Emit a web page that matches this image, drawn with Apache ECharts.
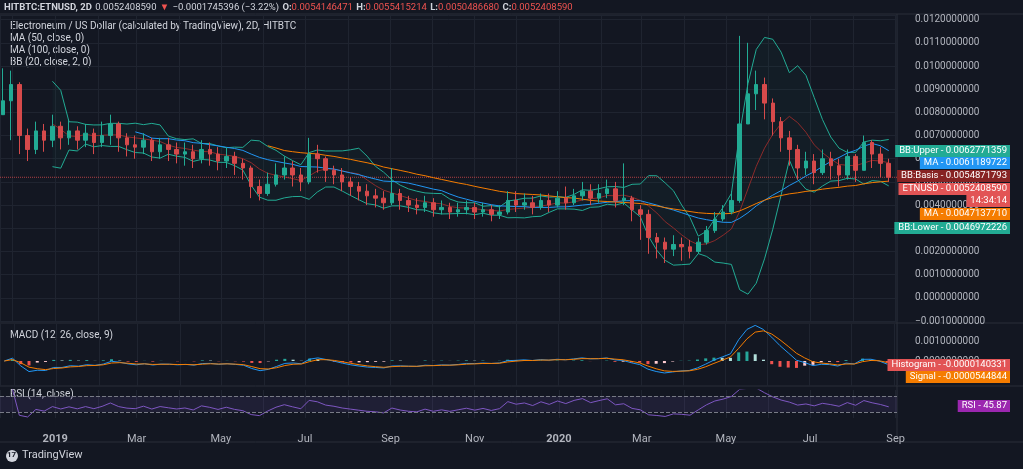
<!DOCTYPE html>
<html><head><meta charset="utf-8">
<script src="https://cdn.jsdelivr.net/npm/echarts@6/dist/echarts.min.js"></script>
<style>html,body{margin:0;background:#131722}#main{width:1023px;height:469px}</style>
</head><body><div id="main"></div>
<script>
// price values in thousandths of a USD, one bar per 6 days from 2018-11-24
var startDate = '2018-11-24';
var stepDays = 6;
var firstOpen = 7.9;
var closes = [8.5,9.2,7.0, 6.4,7.2,6.8,7.4,6.9, 7.2,6.8,7.1,6.7,7.0,7.5,6.9,6.6, 6.5,6.8,6.3,6.6,6.4,6.2,
  6.3,6.0,6.4,6.2,5.9,6.1,5.8,5.6, 4.8,4.5,4.9,5.3, 5.6,5.3,5.0, 6.2,6.0,5.5, 5.3,5.0,4.8,4.6,4.4,4.3,4.1,4.5,
  4.2,4.0,3.9,4.1,3.8, 3.9,3.7,3.8,3.9,3.7,3.8,3.6,3.7,4.2, 4.0,4.1,3.9,4.2,4.0,4.3, 4.1,4.4,4.6,4.3,4.5,4.7,4.2,4.3,
  3.8,3.6, 2.6,2.4,2.1,2.3,2.2,2.0,2.4, 2.9,3.4,3.7,4.2, 7.5, 8.8,9.2,8.4,7.6, 6.9,6.4,5.6,5.9,5.4,6.0,
  5.7,5.3,6.1,5.5,6.7,6.2,5.8,5.2];
var highs = [9.9,9.8,9.3, 7.3,7.6,7.5,7.9,7.6, 7.7,7.4,7.5,7.3,7.6,7.9,7.6,7.1, 7.0,7.1,6.9,6.9,6.9,6.7,
  6.7,6.6,6.8,6.7,6.5,6.5,6.3,6.0, 5.7,5.1,5.4,5.8, 6.1,5.9,5.6, 6.9,6.6,6.1, 5.7,5.6,5.2,5.0,4.9,4.7,4.6,5.6,
  4.7,4.4,4.3,4.4,4.3, 4.2,4.1,4.1,4.2,4.1,4.1,4.0,4.0,4.6, 4.6,4.5,4.4,4.5,4.5,4.6, 4.8,4.7,5.0,4.9,4.9,5.1,5.0,5.8,
  4.4,4.0, 3.8,2.8,2.6,2.7,2.6,2.5,2.6, 3.1,3.7,4.0,4.6, 11.3, 11.0,9.8,9.5,8.6, 7.8,7.2,6.6,6.3,6.2,6.4,
  6.3,6.0,6.4,6.2,7.0,6.8,6.5,6.0];
var lows = [8.0,6.8,6.2, 5.9,6.2,6.3,6.5,6.4, 6.6,6.4,6.5,6.2,6.5,6.6,6.3,6.1, 6.0,6.2,5.9,6.0,5.9,5.8,
  5.7,5.6,5.8,5.7,5.5,5.6,5.3,5.1, 4.3,4.2,4.4,4.8, 5.1,4.8,4.6, 4.9,5.4,5.0, 4.9,4.6,4.4,4.2,4.0,3.9,3.8,4.0,
  3.8,3.7,3.6,3.7,3.5, 3.6,3.4,3.5,3.6,3.4,3.5,3.3,3.4,3.6, 3.7,3.8,3.6,3.8,3.7,3.9, 3.8,4.0,4.2,4.0,4.1,4.3,3.9,4.0,
  3.3,2.5, 1.9,1.7,1.5,1.8,1.6,1.7,1.9, 2.3,2.8,3.3,3.6, 4.1, 7.6,8.1,7.7,7.0, 6.3,5.7,5.1,5.3,4.9,5.3,
  5.1,4.8,5.1,5.0,5.5,5.6,5.2,5.0];

var priceTags = [
  ['BB:Upper', '0.0062771359', '#22ab94'],
  ['MA', '0.0061189722', '#2196f3'],
  ['BB:Basis', '0.0054871793', '#872323'],
  ['ETNUSD', '0.0052408590', '#e25455'],
  ['', '14:34:14', '#e25455'],
  ['MA', '0.0047137710', '#f57c00'],
  ['BB:Lower', '0.0046972226', '#22ab94']
];
var macdTags = [['Histogram', '-0.0000140331', '#e25455'], ['Signal', '-0.0000544844', '#f57c00']];
var rsiTag = ['RSI', '45.87', '#9c27b0'];

var DAY = 86400000;
var t0 = new Date(startDate + 'T00:00:00Z').getTime();
var times = closes.map(function (c, i) { return t0 + i * stepDays * DAY; });
var px = closes.map(function (c) { return c / 1000; });
var candles = closes.map(function (c, i) {
  var o = i ? closes[i - 1] : firstOpen;
  return [times[i], o / 1000, c / 1000, lows[i] / 1000, highs[i] / 1000];
});

function sma(n) {
  return px.map(function (v, i) {
    if (i < n - 1) return [times[i], null];
    var s = 0; for (var k = i - n + 1; k <= i; k++) s += px[k];
    return [times[i], s / n];
  });
}
function bb(n, mult) {
  var up = [], lo = [], mid = [];
  px.forEach(function (v, i) {
    if (i < n - 1) { up.push([times[i], null]); lo.push([times[i], null]); mid.push([times[i], null]); return; }
    var s = 0; for (var k = i - n + 1; k <= i; k++) s += px[k];
    var m = s / n, q = 0; for (k = i - n + 1; k <= i; k++) q += (px[k] - m) * (px[k] - m);
    var sd = Math.sqrt(q / n);
    up.push([times[i], m + mult * sd]); lo.push([times[i], m - mult * sd]); mid.push([times[i], m]);
  });
  return { up: up, lo: lo, mid: mid };
}
function ema(arr, n) {
  var k = 2 / (n + 1), out = [], e = arr[0];
  arr.forEach(function (v) { e = v * k + e * (1 - k); out.push(e); });
  return out;
}
var ma50 = sma(17), ma100 = sma(33), band = bb(7, 2);
var e1 = ema(px, 4), e2 = ema(px, 9);
var macd = px.map(function (v, i) { return e1[i] - e2[i]; });
var sig = ema(macd, 3);
var hist = macd.map(function (v, i) { return v - sig[i]; });
var rsi = [];
(function () {
  var n = 8, ag = 0, al = 0;
  px.forEach(function (v, i) {
    if (i === 0) { rsi.push([times[i], null]); return; }
    var d = v - px[i - 1], g = Math.max(d, 0), l = Math.max(-d, 0);
    ag = (ag * (n - 1) + g) / n; al = (al * (n - 1) + l) / n;
    rsi.push([times[i], al === 0 ? 100 : 100 - 100 / (1 + ag / al)]);
  });
})();

var xMin = new Date('2018-11-22T00:00:00Z').getTime();
var xMax = new Date('2020-09-02T00:00:00Z').getTime();
var lastClose = px[px.length - 1];
var font = 'Roboto, "Noto Sans", sans-serif';
var gridLine = { lineStyle: { color: '#1f2430' } };

function fmt(v) { return (v < 0 ? '\u2212' : '') + Math.abs(v).toFixed(10); }
function xAxis(idx, show) {
  return {
    type: 'time', gridIndex: idx, min: xMin, max: xMax, splitNumber: 11,
    axisLine: { show: false }, axisTick: { show: false },
    splitLine: { show: true, lineStyle: { color: '#1f2430' } },
    axisLabel: show ? {
      color: '#b2b5be', fontFamily: font, fontSize: 11, margin: 16,
      formatter: function (v) {
        var d = new Date(v);
        if (d.getUTCDate() !== 1) return '';
        var m = d.getUTCMonth();
        if (m === 0) return '{y|' + d.getUTCFullYear() + '}';
        return m % 2 === 0 ? ['Jan','Feb','Mar','Apr','May','Jun','Jul','Aug','Sep','Oct','Nov','Dec'][m] : '';
      },
      rich: { y: { fontWeight: 'bold', color: '#b2b5be', fontSize: 11 } }
    } : { show: false }
  };
}

var chart = echarts.init(document.getElementById('main'));
var graphic = [
  { type: 'rect', shape: { x: 0, y: 442, width: 1023, height: 27 }, style: { fill: '#131722' } },
  { type: 'line', shape: { x1: 0, y1: 442, x2: 1023, y2: 442 }, style: { stroke: '#2a2e39' } },
  { type: 'line', shape: { x1: 0, y1: 323, x2: 1023, y2: 323 }, style: { stroke: '#2a2e39' } },
  { type: 'line', shape: { x1: 0, y1: 386, x2: 1023, y2: 386 }, style: { stroke: '#2a2e39' } },
  { type: 'line', shape: { x1: 897, y1: 14, x2: 897, y2: 442 }, style: { stroke: '#2a2e39' } },
  { type: 'line', shape: { x1: 0, y1: 14, x2: 1023, y2: 14 }, style: { stroke: '#2a2e39' } },
  { type: 'text', x: 4, y: 2, style: { text: '{b|HITBTC:ETNUSD, 2D} {w|0.0052408590} {r|\u25BC} {w|\u22120.0001745396 (\u22123.22%)} {b|O:}{r|0.0054146471} {b|H:}{r|0.0055415214} {b|L:}{r|0.0050486680} {b|C:}{r|0.0052408590}',
      rich: { b: { fill: '#d1d4dc', fontWeight: 'bold', fontSize: 9.5, fontFamily: font }, w: { fill: '#d1d4dc', fontSize: 9.5, fontFamily: font }, r: { fill: '#ef5350', fontSize: 9.5, fontFamily: font } } } },
  { type: 'text', x: 10, y: 21, style: { text: 'Electroneum / US Dollar (calculated by TradingView), 2D, HITBTC', fill: '#d1d4dc', fontSize: 10, fontFamily: font } },
  { type: 'text', x: 10, y: 33, style: { text: 'MA (50, close, 0)', fill: '#d1d4dc', fontSize: 10, fontFamily: font } },
  { type: 'text', x: 10, y: 45, style: { text: 'MA (100, close, 0)', fill: '#d1d4dc', fontSize: 10, fontFamily: font } },
  { type: 'text', x: 10, y: 57, style: { text: 'BB (20, close, 2, 0)', fill: '#d1d4dc', fontSize: 10, fontFamily: font } },
  { type: 'text', x: 10, y: 330, style: { text: 'MACD (12, 26, close, 9)', fill: '#d1d4dc', fontSize: 10, fontFamily: font } },
  { type: 'text', x: 10, y: 389, style: { text: 'RSI (14, close)', fill: '#d1d4dc', fontSize: 10, fontFamily: font } },
  { type: 'text', x: 22, y: 450, style: { text: 'TradingView', fill: '#d1d4dc', fontSize: 11, fontFamily: font } },
  { type: 'circle', shape: { cx: 12, cy: 456, r: 6 }, style: { fill: '#d1d4dc' } },
  { type: 'text', x: 7, y: 451, style: { text: '17', fill: '#131722', fontSize: 8, fontWeight: 'bold', fontFamily: font } }
];
function tag(y, name, val, color) {
  graphic.push({ type: 'text', x: 1010, y: y, z: 10, style: {
    text: (name ? name + ' - ' : '') + val, fill: '#fff', fontSize: 9.5, fontFamily: font,
    align: 'right', verticalAlign: 'middle', backgroundColor: color, padding: [1, 3, 1, 4] } });
}
var tagY = [151, 163, 176, 189, 201, 214, 228];
priceTags.forEach(function (t, i) { tag(tagY[i], t[0], t[1], t[2]); });
tag(365, macdTags[0][0], macdTags[0][1], macdTags[0][2]);
tag(377, macdTags[1][0], macdTags[1][1], macdTags[1][2]);
tag(406, rsiTag[0], rsiTag[1], rsiTag[2]);

chart.setOption({
  backgroundColor: '#131722',
  animation: false,
  textStyle: { fontFamily: font },
  grid: [
    { left: 0, right: 126, top: 15, height: 306 },
    { left: 0, right: 126, top: 324, height: 62 },
    { left: 0, right: 126, top: 390, height: 28 }
  ],
  xAxis: [xAxis(0, false), xAxis(1, false), xAxis(2, true)],
  yAxis: [
    { type: 'value', gridIndex: 0, position: 'right', min: -0.001, max: 0.0122, interval: 0.001,
      axisLine: { show: false }, axisTick: { show: false }, splitLine: gridLine,
      axisLabel: { color: '#b2b5be', fontSize: 10, margin: 18, showMaxLabel: false, formatter: fmt } },
    { type: 'value', gridIndex: 1, position: 'right', min: -0.00125, max: 0.00185, interval: 0.00025,
      axisLine: { show: false }, axisTick: { show: false }, splitLine: { show: false },
      axisLabel: { color: '#b2b5be', fontSize: 10, margin: 18, formatter: function (v) {
        return (Math.abs(v) < 1e-9 || Math.abs(v - 0.001) < 1e-9) ? fmt(v) : ''; } } },
    { type: 'value', gridIndex: 2, position: 'right', min: 15, max: 85,
      axisLine: { show: false }, axisTick: { show: false }, splitLine: { show: false }, axisLabel: { show: false } }
  ],
  series: [
    { type: 'line', data: band.lo, symbol: 'none', stack: 'bb', lineStyle: { color: '#22ab94', width: 1 }, z: 1 },
    { type: 'line', data: band.up.map(function (d, i) { return [d[0], d[1] === null ? null : d[1] - band.lo[i][1]]; }), symbol: 'none', stack: 'bb',
      lineStyle: { width: 0 }, areaStyle: { color: 'rgba(34,171,148,0.06)' }, z: 1 },
    { type: 'line', data: band.up, symbol: 'none', lineStyle: { color: '#22ab94', width: 1 }, z: 1 },
    { type: 'line', data: band.mid, symbol: 'none', lineStyle: { color: '#8b2a2a', width: 1 }, z: 2 },
    { type: 'line', data: ma50, symbol: 'none', lineStyle: { color: '#2196f3', width: 1 }, z: 3 },
    { type: 'line', data: ma100, symbol: 'none', lineStyle: { color: '#f57c00', width: 1 }, z: 3 },
    { type: 'line', data: [[xMin, lastClose], [xMax, lastClose]], symbol: 'none', silent: true,
      lineStyle: { color: '#d64a4b', type: 'dotted', width: 1, opacity: 0.8 }, z: 2 },
    { type: 'candlestick', data: candles, barWidth: 4, z: 4,
      itemStyle: { color: '#22ab94', color0: '#d64a4b', borderColor: '#22ab94', borderColor0: '#d64a4b' } },
    { type: 'bar', xAxisIndex: 1, yAxisIndex: 1, data: hist.map(function (v, i) { return { value: [times[i], v],
        itemStyle: { color: v >= 0 ? (i && v < hist[i - 1] ? '#b2dfdb' : '#26a69a') : (i && v > hist[i - 1] ? '#ffcdd2' : '#ef5350') } }; }), barWidth: 3 },
    { type: 'line', xAxisIndex: 1, yAxisIndex: 1, data: macd.map(function (v, i) { return [times[i], v]; }), symbol: 'none', lineStyle: { color: '#2196f3', width: 1 } },
    { type: 'line', xAxisIndex: 1, yAxisIndex: 1, data: sig.map(function (v, i) { return [times[i], v]; }), symbol: 'none', lineStyle: { color: '#f57c00', width: 1 } },
    { type: 'line', xAxisIndex: 2, yAxisIndex: 2, data: rsi, symbol: 'none', lineStyle: { color: '#7e57c2', width: 1 },
      markArea: { silent: true, itemStyle: { color: 'rgba(126,87,194,0.12)' }, data: [[{ yAxis: 30 }, { yAxis: 70 }]] },
      markLine: { symbol: 'none', silent: true, label: { show: false }, lineStyle: { color: '#787b86', type: 'dashed', width: 1 },
        data: [{ yAxis: 70 }, { yAxis: 30 }] } }
  ],
  graphic: graphic
});
</script></body></html>
